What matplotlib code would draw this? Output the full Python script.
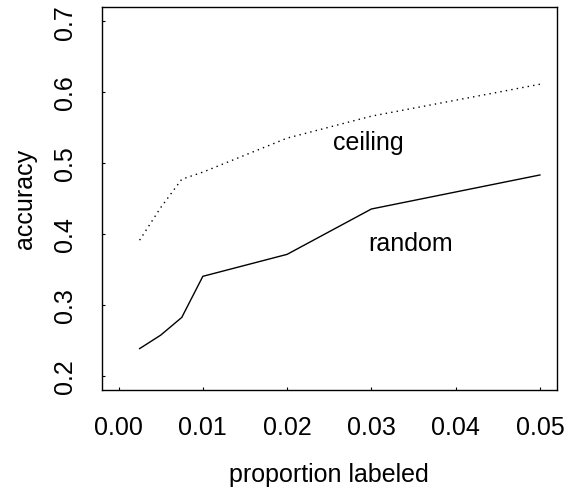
import matplotlib
matplotlib.use("Agg")
import matplotlib.pyplot as plt

plt.rcParams['font.family'] = ['Liberation Sans', 'DejaVu Sans']

# proportion labeled vs accuracy
prop = [0.0025, 0.005, 0.0075, 0.01, 0.02, 0.03, 0.05]
random_acc = [0.238, 0.257, 0.282, 0.340, 0.371, 0.435, 0.483]
ceiling_acc = [0.391, 0.437, 0.477, 0.487, 0.535, 0.566, 0.611]

xticks = [0.00, 0.01, 0.02, 0.03, 0.04, 0.05]
yticks = [0.2, 0.3, 0.4, 0.5, 0.6, 0.7]

fs = 18

fig = plt.figure(figsize=(5.66, 4.89), dpi=100)
ax = fig.add_axes([0.1797, 0.201, 0.804, 0.7826])

ax.plot(prop, random_acc, color='black', lw=1.0)
ax.plot(prop, ceiling_acc, color='black', lw=1.0, linestyle=(0, (1, 3)))

ax.text(0.0296, 0.529, 'ceiling', fontsize=fs, ha='center', va='center')
ax.text(0.0347, 0.387, 'random', fontsize=fs, ha='center', va='center')

ax.set_xlim(-0.002, 0.052)
ax.set_ylim(0.18, 0.72)
ax.set_xticks(xticks)
ax.set_xticklabels(['%.2f' % v for v in xticks])
ax.set_yticks(yticks)
ax.set_yticklabels(['%.1f' % v for v in yticks], rotation=90, va='center')
ax.tick_params(direction='in', length=2, width=0.8, labelsize=fs)
ax.tick_params(axis='y', pad=18)
ax.tick_params(axis='x', pad=18)

for s in ax.spines.values():
    s.set_linewidth(1.0)

ax.set_xlabel('proportion labeled', fontsize=fs, labelpad=17)
ax.set_ylabel('accuracy', fontsize=fs, labelpad=11)

fig.savefig('out.png', dpi=100)
